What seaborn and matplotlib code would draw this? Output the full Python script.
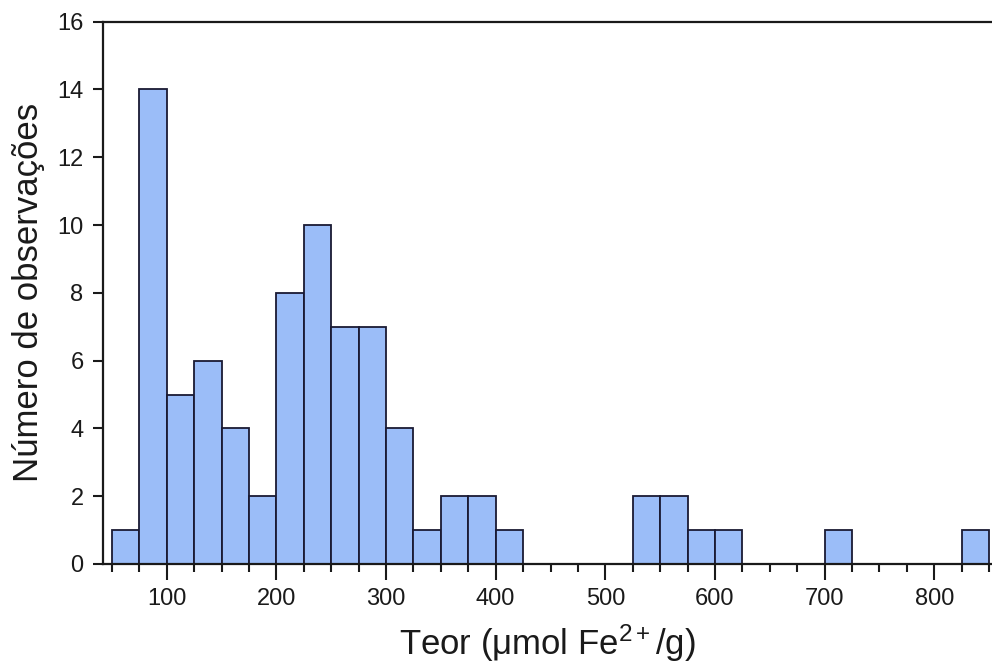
import numpy as np
import pandas as pd
import matplotlib
matplotlib.use("Agg")
import matplotlib.pyplot as plt
import seaborn as sns
from matplotlib.ticker import MultipleLocator, FixedLocator

# ---- data ----
bin_edges = list(range(50, 851, 25))
counts = [1, 14, 5, 6, 4, 2, 8, 10, 7, 7, 4, 1, 2, 2, 1,
          0, 0, 0, 0,
          2, 2, 1, 1,
          0, 0, 0,
          1,
          0, 0, 0, 0,
          1]
x_ticks = [100, 200, 300, 400, 500, 600, 700, 800]
y_ticks = [0, 2, 4, 6, 8, 10, 12, 14, 16]
x_label = "Teor (μmol Fe$^{2+}$/g)"
y_label = "Número de observações"

centers = [(a + b) / 2 for a, b in zip(bin_edges[:-1], bin_edges[1:])]
df = pd.DataFrame({"teor": centers, "n": counts})

sns.set_style("ticks")
plt.rcParams["font.family"] = ["Liberation Sans", "DejaVu Sans"]
plt.rcParams["mathtext.fontset"] = "custom"
plt.rcParams["mathtext.rm"] = "Liberation Sans"
plt.rcParams["mathtext.it"] = "Liberation Sans"
plt.rcParams["mathtext.bf"] = "Liberation Sans:bold"
plt.rcParams["text.color"] = "#1a1a1a"
plt.rcParams["axes.labelcolor"] = "#1a1a1a"
plt.rcParams["xtick.labelcolor"] = "#1a1a1a"
plt.rcParams["ytick.labelcolor"] = "#1a1a1a"

fig = plt.figure(figsize=(9.92, 6.70), dpi=100)
ax = fig.add_axes([103.3 / 992, (670 - 564) / 670, 1 - 103.3 / 992, (564 - 21.7) / 670])

sns.histplot(data=df, x="teor", weights="n", bins=bin_edges, ax=ax,
             color="#9BBDF8", alpha=1.0, edgecolor="#1a1a33", linewidth=1.3)

ax.set_xlim(42.2, 852.6)
ax.set_ylim(0, 16)
ax.xaxis.set_major_locator(FixedLocator(x_ticks))
ax.xaxis.set_minor_locator(MultipleLocator(25))
ax.yaxis.set_major_locator(FixedLocator(y_ticks))
ax.set_xticklabels([str(v) for v in x_ticks])
ax.set_yticklabels([str(v) for v in y_ticks])

for s in ["left", "bottom", "top"]:
    ax.spines[s].set_visible(True)
    ax.spines[s].set_linewidth(1.6)
    ax.spines[s].set_color("#1a1a1a")
ax.spines["right"].set_visible(False)

ax.tick_params(axis="x", which="major", direction="out", length=11.5, width=1.5,
               labelsize=17, pad=6, color="#1a1a1a")
ax.tick_params(axis="x", which="minor", direction="out", length=6, width=1.5,
               color="#1a1a1a")
ax.tick_params(axis="y", which="major", direction="out", length=7.2, width=1.5,
               labelsize=17, pad=7, color="#1a1a1a")
ax.tick_params(top=False, right=False)

ax.set_xlabel(x_label, fontsize=25, labelpad=9)
ax.set_ylabel(y_label, fontsize=25, labelpad=9)

fig.savefig("out.png", dpi=100)
